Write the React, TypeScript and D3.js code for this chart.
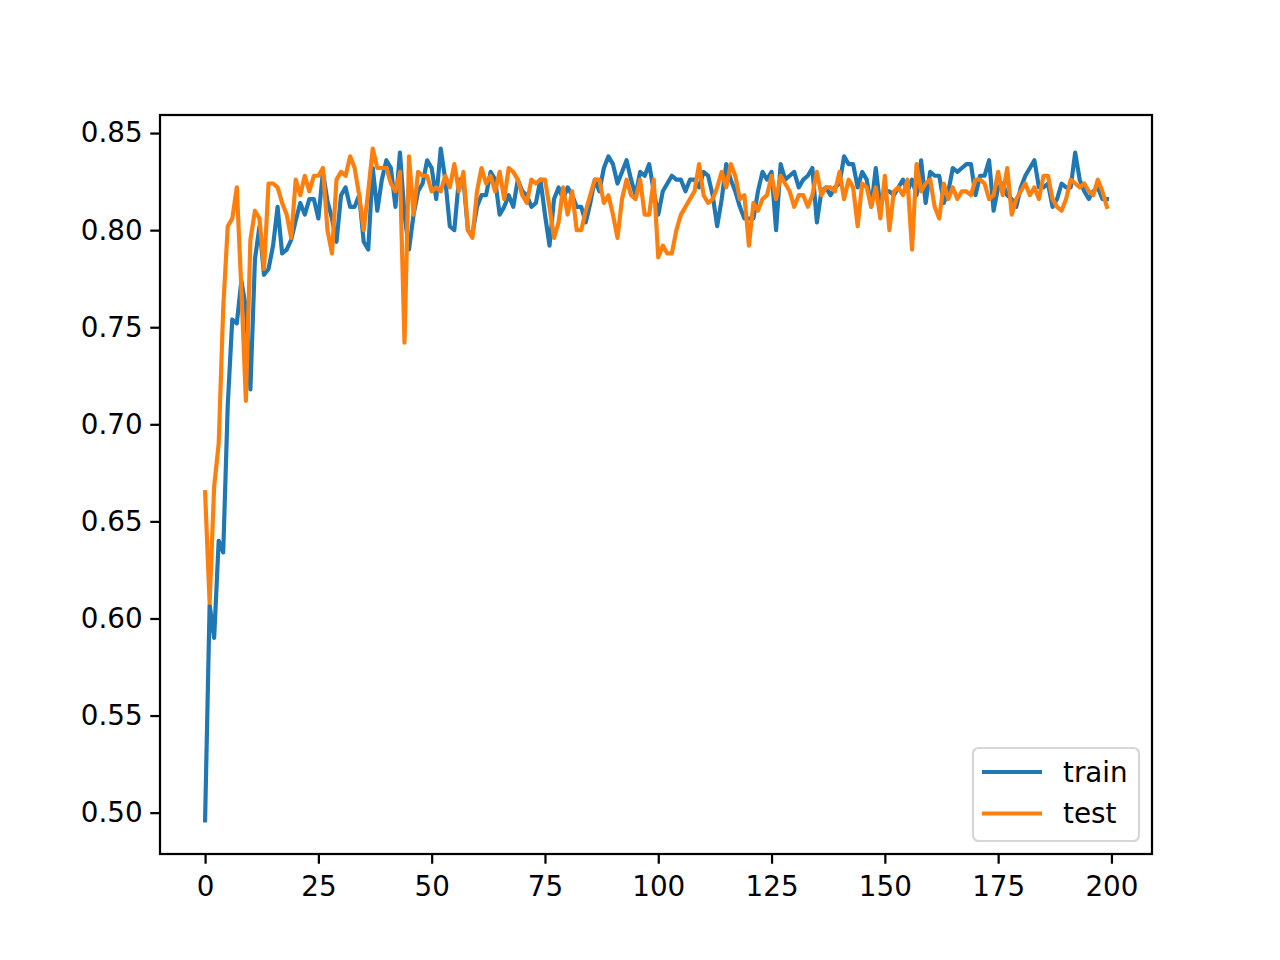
import React, { useEffect, useRef } from "react";
import * as d3 from "d3";

// accuracy per epoch
const trainAcc: number[] = [
  0.496, 0.607, 0.59, 0.64, 0.634, 0.71, 0.754, 0.752, 0.774, 0.76,
  0.718, 0.785, 0.802, 0.777, 0.78, 0.792, 0.812, 0.788, 0.79, 0.795,
  0.805, 0.814, 0.808, 0.816, 0.816, 0.806, 0.83, 0.815, 0.806, 0.794,
  0.818, 0.822, 0.812, 0.812, 0.818, 0.794, 0.79, 0.832, 0.81, 0.826,
  0.836, 0.832, 0.812, 0.84, 0.808, 0.79, 0.808, 0.82, 0.824, 0.836,
  0.832, 0.816, 0.842, 0.826, 0.802, 0.8, 0.826, 0.826, 0.8, 0.798,
  0.812, 0.818, 0.818, 0.83, 0.826, 0.808, 0.812, 0.818, 0.812, 0.826,
  0.82, 0.818, 0.812, 0.814, 0.826, 0.808, 0.792, 0.816, 0.822, 0.816,
  0.822, 0.818, 0.812, 0.812, 0.804, 0.814, 0.826, 0.82, 0.832, 0.838,
  0.834, 0.824, 0.83, 0.836, 0.826, 0.818, 0.83, 0.828, 0.834, 0.82,
  0.808, 0.82, 0.824, 0.828, 0.826, 0.826, 0.82, 0.826, 0.826, 0.822,
  0.83, 0.828, 0.818, 0.802, 0.816, 0.834, 0.826, 0.82, 0.812, 0.806,
  0.806, 0.806, 0.82, 0.83, 0.826, 0.83, 0.8, 0.834, 0.826, 0.828,
  0.83, 0.822, 0.826, 0.828, 0.832, 0.804, 0.82, 0.822, 0.818, 0.822,
  0.824, 0.838, 0.834, 0.834, 0.822, 0.83, 0.826, 0.812, 0.832, 0.812,
  0.82, 0.82, 0.818, 0.822, 0.826, 0.82, 0.826, 0.818, 0.836, 0.814,
  0.83, 0.828, 0.828, 0.814, 0.82, 0.832, 0.83, 0.832, 0.834, 0.834,
  0.818, 0.828, 0.828, 0.836, 0.81, 0.822, 0.824, 0.818, 0.816, 0.812,
  0.822, 0.828, 0.832, 0.836, 0.822, 0.822, 0.824, 0.812, 0.816, 0.824,
  0.822, 0.822, 0.84, 0.826, 0.82, 0.816, 0.82, 0.822, 0.816, 0.816,
];

const testAcc: number[] = [
  0.665, 0.608, 0.668, 0.69, 0.76, 0.802, 0.806, 0.822, 0.77, 0.712,
  0.795, 0.81, 0.806, 0.78, 0.824, 0.824, 0.822, 0.814, 0.808, 0.796,
  0.826, 0.818, 0.828, 0.82, 0.828, 0.828, 0.832, 0.8, 0.788, 0.826,
  0.83, 0.828, 0.838, 0.832, 0.818, 0.8, 0.82, 0.842, 0.832, 0.832,
  0.832, 0.824, 0.82, 0.83, 0.742, 0.838, 0.808, 0.83, 0.828, 0.828,
  0.82, 0.822, 0.82, 0.828, 0.822, 0.834, 0.82, 0.83, 0.8, 0.796,
  0.82, 0.832, 0.824, 0.828, 0.82, 0.83, 0.816, 0.832, 0.83, 0.826,
  0.818, 0.814, 0.826, 0.824, 0.826, 0.826, 0.812, 0.796, 0.804, 0.822,
  0.808, 0.82, 0.8, 0.8, 0.81, 0.818, 0.826, 0.826, 0.814, 0.818,
  0.808, 0.796, 0.816, 0.826, 0.818, 0.816, 0.826, 0.808, 0.808, 0.826,
  0.786, 0.792, 0.788, 0.788, 0.8, 0.808, 0.812, 0.816, 0.82, 0.834,
  0.818, 0.814, 0.816, 0.822, 0.83, 0.822, 0.834, 0.828, 0.816, 0.818,
  0.792, 0.814, 0.81, 0.816, 0.818, 0.828, 0.816, 0.828, 0.824, 0.82,
  0.812, 0.818, 0.818, 0.812, 0.818, 0.83, 0.818, 0.822, 0.822, 0.82,
  0.83, 0.816, 0.826, 0.822, 0.802, 0.824, 0.822, 0.812, 0.822, 0.806,
  0.828, 0.8, 0.82, 0.822, 0.818, 0.826, 0.79, 0.834, 0.82, 0.824,
  0.826, 0.812, 0.806, 0.824, 0.816, 0.822, 0.816, 0.82, 0.82, 0.818,
  0.826, 0.826, 0.824, 0.816, 0.818, 0.83, 0.818, 0.832, 0.808, 0.816,
  0.82, 0.824, 0.818, 0.822, 0.816, 0.828, 0.828, 0.816, 0.812, 0.81,
  0.816, 0.826, 0.824, 0.822, 0.824, 0.82, 0.818, 0.826, 0.82, 0.812,
];

const seriesNames = ["train", "test"];
const seriesColors = ["#1f77b4", "#ff7f0e"];
const xTicks = [0, 25, 50, 75, 100, 125, 150, 175, 200];
const yTicks = [0.5, 0.55, 0.6, 0.65, 0.7, 0.75, 0.8, 0.85];

const App: React.FC = () => {
  const svgRef = useRef<SVGSVGElement>(null);

  useEffect(() => {
    if (!svgRef.current) return;

    const width = 1280;
    const height = 960;
    const margin = { top: 115, right: 128, bottom: 106, left: 160 };
    const pt = 200 / 72; // figure saved at 200 dpi

    const svg = d3.select(svgRef.current);
    svg.selectAll("*").remove();
    svg.attr("width", width).attr("height", height);

    svg.append("rect").attr("width", width).attr("height", height).attr("fill", "#fff");

    const series = [trainAcc, testAcc];
    const n = trainAcc.length;

    // matplotlib style 5% padding
    const xPad = (n - 1) * 0.05;
    const allVals = series.flat();
    const yMin = d3.min(allVals) as number;
    const yMax = d3.max(allVals) as number;
    const yPad = (yMax - yMin) * 0.05;

    const xScale = d3
      .scaleLinear()
      .domain([-xPad, n - 1 + xPad])
      .range([margin.left, width - margin.right]);

    const yScale = d3
      .scaleLinear()
      .domain([yMin - yPad, yMax + yPad])
      .range([height - margin.bottom, margin.top]);

    const line = d3
      .line<number>()
      .x((_, i) => xScale(i))
      .y((d) => yScale(d));

    const plot = svg.append("g");

    series.forEach((data, k) => {
      plot
        .append("path")
        .datum(data)
        .attr("d", line)
        .attr("fill", "none")
        .attr("stroke", seriesColors[k])
        .attr("stroke-width", 1.5 * pt)
        .attr("stroke-linejoin", "round")
        .attr("stroke-linecap", "square");
    });

    const font = "'DejaVu Sans', sans-serif";
    const fontSize = 10 * pt;

    const xAxis = svg
      .append("g")
      .attr("transform", `translate(0,${height - margin.bottom})`)
      .call(
        d3.axisBottom(xScale).tickValues(xTicks).tickSize(3.5 * pt).tickPadding(3.5 * pt + 3).tickFormat(d3.format("d"))
      );

    const yAxis = svg
      .append("g")
      .attr("transform", `translate(${margin.left},0)`)
      .call(
        d3.axisLeft(yScale).tickValues(yTicks).tickSize(3.5 * pt).tickPadding(3.5 * pt - 2).tickFormat(d3.format(".2f"))
      );

    [xAxis, yAxis].forEach((g) => {
      g.select(".domain").remove();
      g.selectAll(".tick line").attr("stroke", "#000").attr("stroke-width", 0.8 * pt);
      g.selectAll(".tick text")
        .attr("fill", "#000")
        .style("font-family", font)
        .style("font-size", `${fontSize}px`);
    });

    // frame
    svg
      .append("rect")
      .attr("x", margin.left)
      .attr("y", margin.top)
      .attr("width", width - margin.left - margin.right)
      .attr("height", height - margin.top - margin.bottom)
      .attr("fill", "none")
      .attr("stroke", "#000")
      .attr("stroke-width", 0.8 * pt);

    // legend
    const legend = svg.append("g").attr("transform", "translate(973,748)");
    legend
      .append("rect")
      .attr("width", 166)
      .attr("height", 93)
      .attr("rx", 5.5)
      .attr("fill", "#fff")
      .attr("fill-opacity", 0.8)
      .attr("stroke", "#d6d6d6")
      .attr("stroke-width", 0.8 * pt);

    seriesNames.forEach((name, k) => {
      const yy = 24 + k * 41.5;
      legend
        .append("line")
        .attr("x1", 9)
        .attr("x2", 69)
        .attr("y1", yy)
        .attr("y2", yy)
        .attr("stroke", seriesColors[k])
        .attr("stroke-width", 1.5 * pt);
      legend
        .append("text")
        .attr("x", 90)
        .attr("y", yy)
        .attr("dy", "0.35em")
        .attr("fill", "#000")
        .style("font-family", font)
        .style("font-size", `${fontSize}px`)
        .text(name);
    });
  }, []);

  return (
    <div style={{ position: "absolute", left: 0, top: 0 }}>
      <svg ref={svgRef} style={{ display: "block" }}></svg>
    </div>
  );
};

export default App;
